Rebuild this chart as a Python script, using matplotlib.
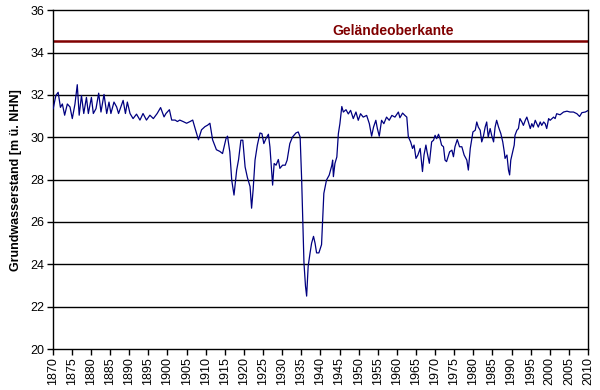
import matplotlib
matplotlib.use("Agg")
import matplotlib.pyplot as plt

# groundwater level readings (year, m above NHN)
years = [
	1870.1, 1870.8, 1871.4, 1872.0, 1872.5, 1873.1, 1873.8, 1874.5, 1875.1, 1875.8,
	1876.4, 1876.9, 1877.5, 1878.1, 1878.8, 1879.3, 1880.1, 1880.6, 1881.3, 1882.0,
	1882.6, 1883.4, 1884.1, 1884.7, 1885.2, 1886.0, 1886.7, 1887.2, 1888.4, 1889.0,
	1889.5, 1890.2, 1891.0, 1891.9, 1892.8, 1893.6, 1894.5, 1895.4, 1896.3, 1897.3,
	1898.2, 1899.1, 1899.6, 1900.5, 1901.1, 1902.0, 1902.6, 1903.2, 1904.1, 1905.0,
	1905.9, 1906.6, 1907.2, 1908.1, 1908.9, 1909.8, 1910.5, 1911.1, 1911.8, 1912.8,
	1913.7, 1914.4, 1915.3, 1915.7, 1916.3, 1916.8, 1917.4, 1918.1, 1918.6, 1919.2,
	1919.7, 1920.3, 1920.9, 1921.6, 1922.0, 1922.4, 1922.9, 1923.5, 1924.2, 1924.7,
	1925.2, 1925.8, 1926.4, 1926.8, 1927.2, 1927.5, 1927.9, 1928.4, 1929.0, 1929.4,
	1930.1, 1930.8, 1931.3, 1932.0, 1932.7, 1933.6, 1934.2, 1934.7, 1935.1, 1935.4,
	1935.7, 1936.1, 1936.4, 1936.8, 1937.3, 1937.7, 1938.2, 1938.6, 1939.0, 1939.6,
	1940.3, 1940.9, 1941.6, 1942.3, 1943.0, 1943.2, 1943.4, 1943.8, 1944.3, 1944.7,
	1945.1, 1945.6, 1946.0, 1946.7, 1947.3, 1947.9, 1948.6, 1949.3, 1949.9, 1950.5,
	1951.2, 1952.1, 1952.8, 1953.4, 1953.9, 1954.5, 1954.9, 1955.4, 1956.0, 1956.6,
	1957.3, 1958.0, 1958.7, 1959.5, 1960.4, 1960.8, 1961.5, 1962.1, 1962.6, 1963.0,
	1963.6, 1964.1, 1964.5, 1965.0, 1965.5, 1966.1, 1966.7, 1967.1, 1967.6, 1967.9,
	1968.5, 1969.1, 1969.6, 1970.0, 1970.4, 1970.9, 1971.3, 1971.7, 1972.2, 1972.6,
	1973.0, 1973.8, 1974.4, 1974.8, 1975.2, 1975.8, 1976.4, 1977.0, 1977.6, 1978.3,
	1978.7, 1979.2, 1979.9, 1980.5, 1980.9, 1981.3, 1981.8, 1982.2, 1982.6, 1983.1,
	1983.5, 1983.9, 1984.4, 1984.8, 1985.3, 1985.7, 1986.1, 1986.6, 1987.2, 1987.7,
	1988.1, 1988.3, 1988.8, 1989.2, 1989.5, 1989.8, 1990.3, 1990.7, 1990.9, 1991.4,
	1991.8, 1992.2, 1992.7, 1993.1, 1993.6, 1994.0, 1994.4, 1994.9, 1995.3, 1995.7,
	1996.2, 1996.6, 1997.0, 1997.5, 1997.9, 1998.4, 1998.8, 1999.2, 1999.7, 2000.1,
	2001.0, 2001.4, 2001.8, 2002.7, 2003.6, 2004.5, 2005.3, 2006.2, 2007.1, 2007.8,
	2008.4, 2009.3, 2010.1,
]
levels = [
	31.35, 31.97, 32.12, 31.41, 31.57, 31.04, 31.57, 31.43, 30.88, 31.57,
	32.48, 31.04, 31.97, 31.12, 31.88, 31.12, 31.88, 31.12, 31.35, 32.08,
	31.19, 32.02, 31.12, 31.66, 31.12, 31.66, 31.43, 31.12, 31.74, 31.12,
	31.66, 31.12, 30.88, 31.09, 30.81, 31.12, 30.81, 31.04, 30.88, 31.12,
	31.40, 30.96, 31.12, 31.30, 30.81, 30.81, 30.74, 30.81, 30.74, 30.66,
	30.74, 30.81, 30.43, 29.88, 30.35, 30.50, 30.57, 30.66, 29.88, 29.41,
	29.33, 29.23, 29.93, 30.05, 29.31, 27.98, 27.27, 28.45, 28.95, 29.86,
	29.86, 28.60, 28.10, 27.67, 26.65, 27.51, 28.92, 29.62, 30.20, 30.17,
	29.70, 29.95, 30.14, 29.54, 28.53, 27.74, 28.76, 28.68, 28.95, 28.53,
	28.68, 28.68, 28.92, 29.70, 30.01, 30.20, 30.25, 30.01, 27.98, 26.10,
	24.07, 22.97, 22.50, 23.91, 24.54, 25.00, 25.32, 25.00, 24.54, 24.54,
	24.93, 27.35, 27.98, 28.21, 28.68, 28.92, 28.14, 28.76, 29.07, 30.17,
	30.64, 31.45, 31.19, 31.30, 31.10, 31.27, 30.88, 31.19, 30.80, 31.11,
	30.95, 31.03, 30.64, 30.05, 30.48, 30.80, 30.41, 30.05, 30.80, 30.64,
	30.95, 30.80, 31.03, 30.95, 31.19, 30.92, 31.14, 31.03, 30.95, 30.02,
	29.78, 29.47, 29.63, 29.00, 29.16, 29.47, 28.38, 29.16, 29.63, 29.31,
	28.77, 29.78, 29.86, 30.09, 29.93, 30.14, 29.93, 29.63, 29.55, 28.92,
	28.85, 29.31, 29.39, 29.08, 29.55, 29.89, 29.55, 29.55, 29.16, 28.92,
	28.45, 29.47, 30.25, 30.33, 30.72, 30.48, 30.33, 29.78, 30.01, 30.48,
	30.72, 30.01, 30.41, 30.09, 29.78, 30.48, 30.80, 30.48, 30.17, 29.78,
	29.31, 29.00, 29.16, 28.45, 28.22, 28.92, 29.31, 29.63, 30.09, 30.33,
	30.41, 30.88, 30.72, 30.56, 30.80, 30.95, 30.72, 30.41, 30.64, 30.48,
	30.80, 30.64, 30.48, 30.72, 30.56, 30.72, 30.64, 30.41, 30.88, 30.80,
	30.95, 30.88, 31.11, 31.06, 31.19, 31.23, 31.19, 31.19, 31.11, 30.98,
	31.16, 31.19, 31.27,
]
ground_level = 34.55
ground_label = "Geländeoberkante"
ylabel = "Grundwasserstand [m ü. NHN]"
year_ticks = list(range(1870, 2011, 5))
level_ticks = list(range(20, 37, 2))

plt.rcParams["font.family"] = ["Liberation Sans", "DejaVu Sans"]

fig = plt.figure(figsize=(6, 3.9), dpi=100)
ax = fig.add_axes([0.088, 0.105, 0.892, 0.869])

for t in level_ticks[1:-1]:
	ax.axhline(t, color="black", lw=1, zorder=1)

ax.axhline(ground_level, color="#800000", lw=1.8, zorder=2)
ax.text(1959, ground_level + 0.12, ground_label, color="#800000", fontsize=10,
	fontweight="bold", ha="center", va="bottom")

ax.plot(years, levels, color="#000080", lw=0.9, zorder=3)

ax.set_xlim(1870, 2010)
ax.set_ylim(20, 36)
ax.set_xticks(year_ticks)
ax.set_xticklabels([str(y) for y in year_ticks], rotation=90, fontsize=9)
ax.set_yticks(level_ticks)
ax.set_yticklabels([str(v) for v in level_ticks], fontsize=9)
ax.tick_params(direction="out", length=4, width=1, color="black", pad=2)
ax.set_ylabel(ylabel, fontsize=9, fontweight="bold", labelpad=6)
for s in ax.spines.values():
	s.set_color("black")
	s.set_linewidth(1)

fig.savefig("out.png", dpi=100)
